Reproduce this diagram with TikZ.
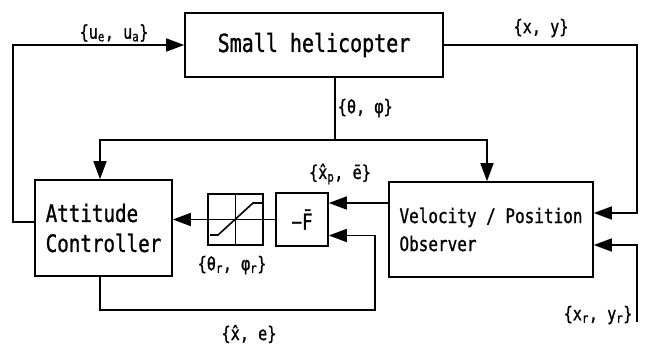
\documentclass[tikz,border=0pt]{standalone}
\usepackage{fontspec}
\setmainfont[FakeStretch=0.8, FakeBold=1]{DejaVu Sans Mono}
\usetikzlibrary{arrows.meta, calc}

\begin{document}
\begin{tikzpicture}[x=1pt, y=-1pt, >={Triangle[length=18pt, width=13pt]}, line width=1.6pt,
    block/.style={draw, line width=1.6pt, inner sep=0pt},
    lbl/.style={font=\fontsize{19}{22}\selectfont, inner sep=0pt}]
    \useasboundingbox (0,0) rectangle (647,349);

    % Blocks
    \node[block, minimum width=258pt, minimum height=64pt, font=\fontsize{25}{30}\selectfont] (heli) at (314,45) {Small helicopter};
    \node[block, minimum width=137pt, minimum height=96pt, align=left, font=\fontsize{24}{30}\selectfont] (att) at (103.5,228) {Attitude\\Controller};
    \node[block, minimum width=204pt, minimum height=95pt, align=left, font=\fontsize{20}{28}\selectfont] (obs) at (491,229.5) {Velocity / Position\\Observer};
    \node[block, minimum width=55pt, minimum height=51pt] (sat) at (235.5,219.5) {};
    \node[block, minimum width=52pt, minimum height=53pt, font=\fontsize{22}{26}\selectfont] (negF) at (302,219.5) {−\={F}};

    % Saturation curve
    \draw (sat.north) -- (sat.south);
    \draw (sat.west) -- (sat.east);
    \draw ([shift={(-25.5,15.5)}]sat.center) -- ++(8,0) -- ++(35,-32) -- ++(10,0);

    % Helicopter outputs
    \coordinate (rx) at (637,45);
    \draw[->] (heli.east) -- (rx) |- ([yshift=16.5pt]obs.east);
    \coordinate (br) at (335,140);
    \draw ([xshift=21pt]heli.south) -- (br);
    \draw[->] (br) -| ([xshift=-3.5pt]att.north);
    \draw[->] (br) -| ([xshift=-4pt]obs.north);

    % Control input
    \draw[->] ([yshift=6pt]att.west) -- ++(-21,0) |- (heli.west);

    % Inner loop
    \draw[->] ([yshift=26.5pt]obs.west) -- ([yshift=16.5pt]negF.east);
    \draw (negF.west) -- (sat.east);
    \draw[->] (sat.west) -- (att.east |- sat.west);
    \coordinate (fb) at (375,310);
    \draw[->] ([xshift=-3.5pt]att.south) |- (fb) |- ([yshift=-16pt]negF.east);

    % Reference input
    \coordinate (xr) at (637,322);
    \draw[->] (xr) |- ([yshift=-15.5pt]obs.east);

    % Labels
    \node[lbl] (lu) at (114,33) {\{u\textsubscript{e}, u\textsubscript{a}\}};
    \node[lbl] (lxy) at (541,28) {\{x, y\}};
    \node[lbl, anchor=west] (lth) at (337,108) {\{θ, φ\}};
    \node[lbl] (lxp) at (340,174) {\{\^{x}\textsubscript{p}, \={e}\}};
    \node[lbl] (lthr) at (232,265) {\{θ\textsubscript{r}, φ\textsubscript{r}\}};
    \node[lbl] (lxe) at (249,334) {\{\^{x}, e\}};
    \node[lbl] (lxr) at (598,315) {\{x\textsubscript{r}, y\textsubscript{r}\}};

\end{tikzpicture}
\end{document}
